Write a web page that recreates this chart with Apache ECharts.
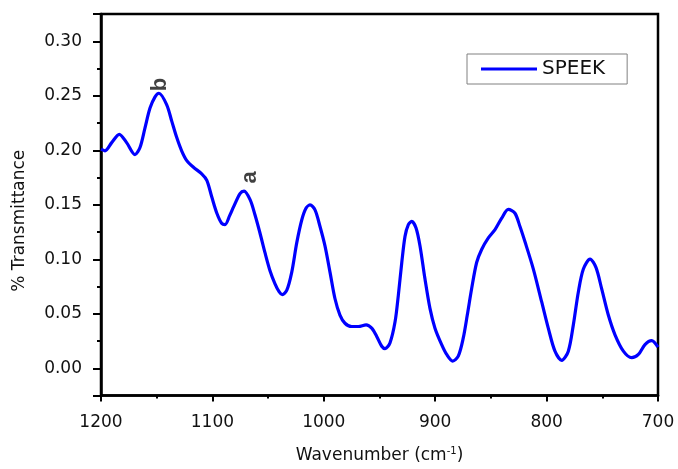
<!DOCTYPE html>
<html>
<head>
<meta charset="utf-8">
<script src="https://cdn.jsdelivr.net/npm/echarts@6/dist/echarts.min.js"></script>
<style>
html,body{margin:0;padding:0;background:#fff;}
#chart{width:678px;height:469px;}
</style>
</head>
<body>
<div id="chart"></div>
<script>
// Wavenumber (cm-1)
var wavenumbers = [1200,1196.4,1190.4,1183.6,1177,1169.5,1165,1160.5,1156,1151.5,1148,1141,1136.5,1132,1127.6,1123,1117,1109.6,1105,1100.6,1096,1091.7,1088.7,1084.5,1081,1075.2,1071.6,1066,1061.8,1057.3,1052.8,1048.3,1043.8,1040,1037.3,1033.3,1028.8,1024.3,1019.8,1016,1012.4,1007.9,1003.4,998.9,994.4,990,985.5,981,975,969,962,957,952.5,948,945,940.6,936,933.1,930,927.1,924.1,921.1,917.2,913.6,909.2,904.7,900.2,894.2,889.7,884.3,879.3,874.8,871.2,867.3,862.8,858.3,852.3,846.3,840.3,834.4,828.4,823.9,819.4,811.9,804.4,798.5,792.5,786.4,780.5,776,771.5,767,761,755.7,750.6,744.6,738.6,731.1,723.6,717.6,711.7,705.7,700];
// % Transmittance
var transmittance = [0.201,0.1995,0.207,0.2146,0.207,0.196,0.2025,0.2206,0.2387,0.249,0.2523,0.2417,0.2267,0.2116,0.1995,0.1905,0.1844,0.1784,0.1724,0.1573,0.1422,0.133,0.1317,0.140,0.148,0.1603,0.1625,0.1543,0.1408,0.1241,0.106,0.0895,0.0775,0.070,0.0675,0.0714,0.088,0.115,0.136,0.1468,0.1498,0.1453,0.130,0.112,0.088,0.064,0.0488,0.0413,0.0383,0.0383,0.0398,0.0368,0.0292,0.0202,0.0180,0.0232,0.0428,0.0669,0.097,0.121,0.1317,0.1347,0.1287,0.112,0.082,0.0549,0.0368,0.0217,0.0127,0.0066,0.0111,0.0278,0.0488,0.073,0.097,0.109,0.1196,0.1272,0.1377,0.1458,0.1422,0.130,0.116,0.091,0.0608,0.0368,0.0157,0.0072,0.0157,0.0398,0.07,0.091,0.1001,0.0925,0.073,0.0488,0.0307,0.0157,0.0097,0.0127,0.0217,0.0253,0.0193];
var seriesName = 'SPEEK';
// peak annotations
var annoLabels = ['b', 'a'];
var annoX = [1147, 1066];
var annoY = [0.2604, 0.175];
// ticks
var xTicks = [1200, 1100, 1000, 900, 800, 700];
var yTickLabels = ['0.00','0.05','0.10','0.15','0.20','0.25','0.30'];

var lineData = wavenumbers.map(function (w, i) { return [w, transmittance[i]]; });
var annoData = annoLabels.map(function (t, i) { return { value: [annoX[i], annoY[i]], name: t }; });

var font = 'DejaVu Sans';
var chart = echarts.init(document.getElementById('chart'), null, { renderer: 'canvas' });
chart.setOption({
  animation: false,
  backgroundColor: '#fff',
  grid: { left: 101, right: 20, top: 14, bottom: 67, show: true, borderColor: '#000', borderWidth: 2.5, backgroundColor: 'transparent' },
  legend: {
    data: [seriesName],
    left: 467, top: 54,
    padding: [5, 22, 5, 14],
    itemWidth: 56, itemHeight: 14, itemGap: 5,
    borderColor: '#808080', borderWidth: 1,
    textStyle: { fontFamily: font, fontSize: 20, color: '#111' },
    icon: 'path://M0,5.5 L56,5.5 L56,8.5 L0,8.5 Z'
  },
  xAxis: {
    type: 'value', inverse: true, min: 700, max: 1200, interval: 100,
    name: 'Wavenumber (cm{sup|-1})', nameLocation: 'middle', nameGap: 51,
    nameTextStyle: { fontFamily: font, fontSize: 17, color: '#111', rich: { sup: { fontFamily: font, fontSize: 10, verticalAlign: 'top', padding: [0, 0, 8, 0] } } },
    axisLine: { show: true, onZero: false, lineStyle: { color: '#000', width: 2.5 } },
    axisTick: { show: true, inside: false, length: 6, lineStyle: { color: '#000', width: 2 } },
    minorTick: { show: true, splitNumber: 2, length: 3, lineStyle: { color: '#000', width: 2 } },
    axisLabel: { fontFamily: font, fontSize: 17, color: '#111', margin: 19, formatter: function (v) { return xTicks.indexOf(v) >= 0 ? String(v) : ''; } },
    splitLine: { show: false }, minorSplitLine: { show: false }
  },
  yAxis: [{
    type: 'value', min: -0.025, max: 0.325, splitNumber: 7, position: 'left',
    name: '% Transmittance', nameLocation: 'middle', nameGap: 73, nameRotate: 90,
    nameTextStyle: { fontFamily: font, fontSize: 17, color: '#111', padding: [0, 32, 0, 0] },
    axisLine: { show: true, onZero: false, lineStyle: { color: '#000', width: 2.5 } },
    axisTick: { show: true, inside: false, length: 8, lineStyle: { color: '#000', width: 2 } },
    axisLabel: { fontFamily: font, fontSize: 17, color: '#111', margin: 19, formatter: function (v) { var s = v.toFixed(2); return yTickLabels.indexOf(s) >= 0 && Math.abs(v * 20 - Math.round(v * 20)) < 1e-6 ? s : ''; } },
    splitLine: { show: false }
  }, {
    type: 'value', min: -0.025, max: 0.325, interval: 0.025, position: 'left', offset: 0,
    axisLine: { show: false },
    axisTick: { show: true, inside: false, length: 4, lineStyle: { color: '#000', width: 2 } },
    axisLabel: { show: false },
    splitLine: { show: false }
  }],
  series: [{
    name: seriesName, type: 'line', data: lineData, xAxisIndex: 0, yAxisIndex: 0,
    smooth: 0.3, symbol: 'none', showSymbol: false,
    lineStyle: { color: '#0000ff', width: 3.2 }, itemStyle: { color: '#0000ff' }
  }, {
    name: 'anno', type: 'scatter', data: annoData, xAxisIndex: 0, yAxisIndex: 0,
    symbolSize: 1, itemStyle: { color: 'rgba(0,0,0,0)' }, silent: true,
    label: { show: true, position: 'inside', rotate: 90, formatter: function (p) { return p.name; }, fontFamily: 'Liberation Sans', fontWeight: 'bold', fontSize: 22, color: '#111' }
  }]
});
</script>
</body>
</html>
